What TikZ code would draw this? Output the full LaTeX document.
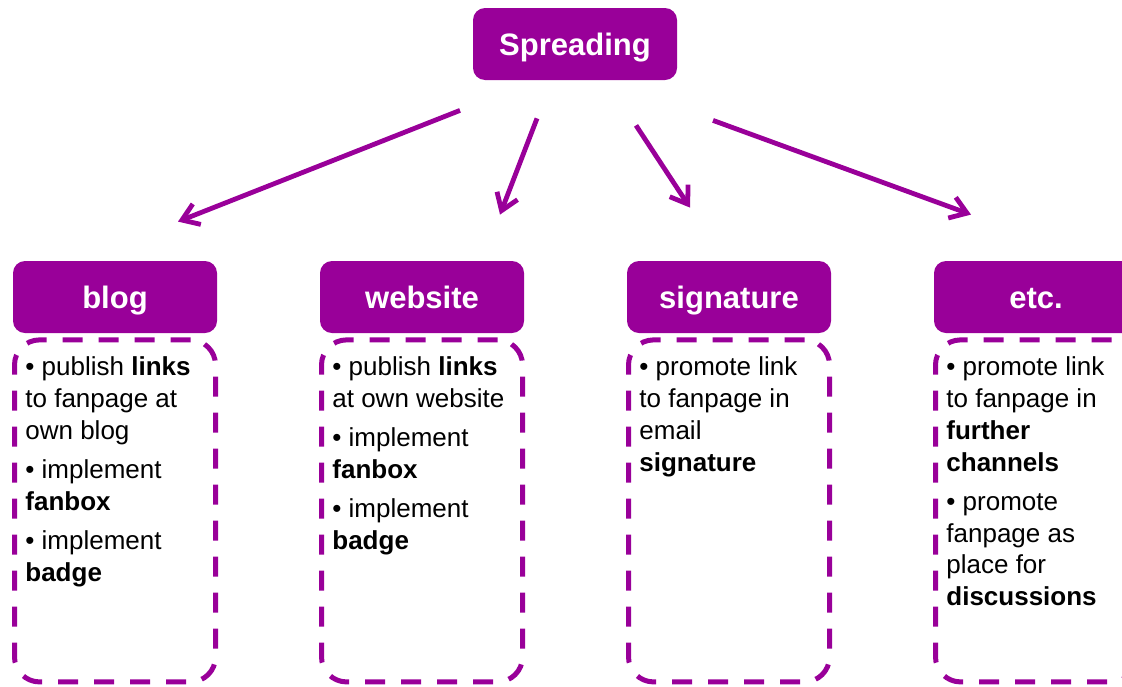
\documentclass[tikz,border=0pt]{standalone}
\usepackage{fontspec}
\setmainfont{Liberation Sans}
\usetikzlibrary{arrows.meta}
\usetikzlibrary{positioning}
\usetikzlibrary{calc}
\definecolor{spreadpurple}{RGB}{153,0,153}

\begin{document}
\begin{tikzpicture}[x=0.5pt,y=-0.5pt,>={Straight Barb[length=8pt,width=11pt]},node distance=153.5pt]
 \tikzset{
 	head node/.style={rectangle,rounded corners=6pt,fill=spreadpurple,text=white,inner sep=0,
 		minimum width=102pt,minimum height=36pt,text height=11.5pt,text depth=0pt,
 		font=\fontsize{15.5}{18}\selectfont\bfseries},
 	dash node/.style={rectangle,rounded corners=12.5pt,draw=spreadpurple,line width=2.5pt,
 		dash pattern=on 10pt off 8pt,minimum width=100.5pt,minimum height=171pt,inner sep=0},
 	text node/.style={anchor=north west,align=left,inner sep=0,font=\fontsize{13}{15.9}\selectfont},
 	spread arrow/.style={->,draw=spreadpurple,line width=2.4pt}
 }
 \clip (0,0) rectangle (1122,686);
 \useasboundingbox (0,0) rectangle (1122,686);

       \node[head node] (spread) at (575,44) {Spreading};
       \node[head node] (blog) at (115,297) {blog};
       \node[head node] (web) [right of=blog] {website};
       \node[head node] (sig) [right of=web] {signature};
       \node[head node] (etc) [right of=sig] {etc.};

       \node[dash node] (blogbox) [below=2pt of blog] {};
       \node[dash node] (webbox) [below=2pt of web] {};
       \node[dash node] (sigbox) [below=2pt of sig] {};
       \node[dash node] (etcbox) [below=2pt of etc] {};

       \node[text node] (blogtext) at ($(blogbox.north west)+(13,19)$)
         {• publish \textbf{links}\\to fanpage at\\own blog\\[3.75pt]
          • implement\\\textbf{fanbox}\\[3.75pt]• implement\\\textbf{badge}};
       \node[text node] (webtext) at ($(webbox.north west)+(13,19)$)
         {• publish \textbf{links}\\at own website\\[3.75pt]
          • implement\\\textbf{fanbox}\\[3.75pt]• implement\\\textbf{badge}};
       \node[text node] (sigtext) at ($(sigbox.north west)+(13,19)$)
         {• promote link\\to fanpage in\\email\\\textbf{signature}};
       \node[text node] (etctext) at ($(etcbox.north west)+(13,19)$)
         {• promote link\\to fanpage in\\\textbf{further}\\\textbf{channels}\\[3.75pt]
          • promote\\fanpage as\\place for\\\textbf{discussions}};

       \coordinate (s1) at ($(spread.south)+(-115,30)$);
       \coordinate (s2) at ($(spread.south)+(-38,38)$);
       \coordinate (s3) at ($(spread.south)+(61,45)$);
       \coordinate (s4) at ($(spread.south)+(138,40)$);
       \coordinate (e1) at ($(blog.north)+(63,-39)$);
       \coordinate (e2) at ($(web.north)+(78,-46)$);
       \coordinate (e3) at ($(sig.north)+(-39,-53)$);
       \coordinate (e4) at ($(etc.north)+(-65,-46)$);

     \draw[spread arrow] (s1) -- (e1);
     \draw[spread arrow] (s2) -- (e2);
     \draw[spread arrow] (s3) -- (e3);
     \draw[spread arrow] (s4) -- (e4);
 \end{tikzpicture}
\end{document}
